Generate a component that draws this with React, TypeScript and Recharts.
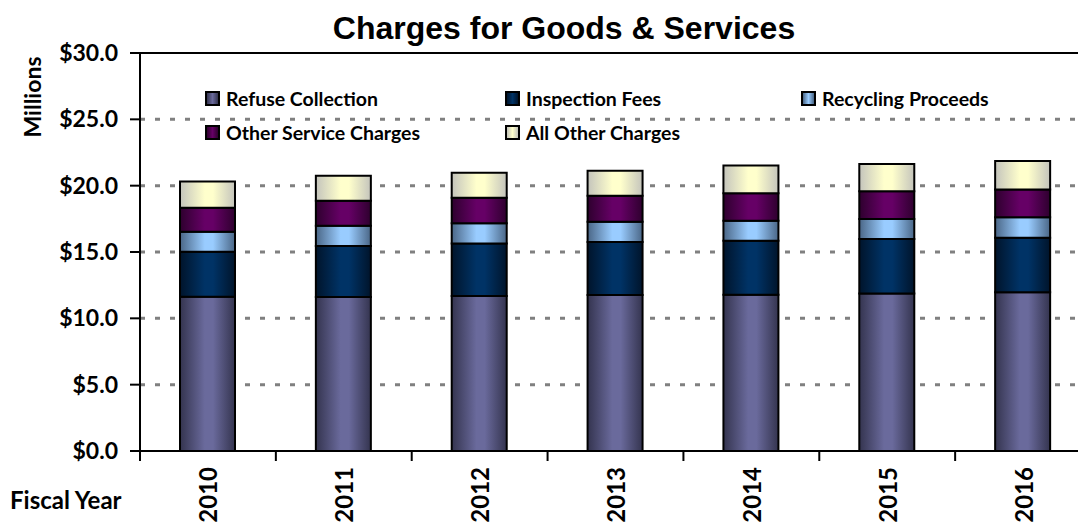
import React from "react"
import {
  BarChart,
  Bar,
  XAxis,
  YAxis,
  CartesianGrid,
  ReferenceLine,
} from "recharts"

// values in $ millions
const years = ["2010", "2011", "2012", "2013", "2014", "2015", "2016"]
const refuseCollection = [11.63, 11.6, 11.68, 11.76, 11.78, 11.88, 11.96]
const inspectionFees = [3.39, 3.85, 3.97, 3.99, 4.07, 4.1, 4.11]
const recyclingProceeds = [1.51, 1.53, 1.51, 1.53, 1.51, 1.5, 1.54]
const otherServiceCharges = [1.81, 1.88, 1.93, 1.96, 2.06, 2.09, 2.11]
const allOtherCharges = [1.98, 1.89, 1.88, 1.88, 2.1, 2.06, 2.13]
const yTicks = [0, 5, 10, 15, 20, 25, 30]

const FONT = "Lato, 'Open Sans', sans-serif"

const series = [
  { key: "refuse", name: "Refuse Collection", edge: "#34344f", mid: "#6a6a9c", values: refuseCollection },
  { key: "inspection", name: "Inspection Fees", edge: "#00142b", mid: "#003366", values: inspectionFees },
  { key: "recycling", name: "Recycling Proceeds", edge: "#4a6686", mid: "#99ccff", values: recyclingProceeds },
  { key: "otherService", name: "Other Service Charges", edge: "#2e002e", mid: "#660066", values: otherServiceCharges },
  { key: "allOther", name: "All Other Charges", edge: "#c4c4bc", mid: "#ffffcc", values: allOtherCharges },
]

const data = years.map((year, i) => {
  const row: Record<string, string | number> = { year }
  series.forEach((s) => {
    row[s.key] = s.values[i]
  })
  return row
})

// legend layout (two rows, three columns inside the plot)
const legendRows = [
  ["refuse", "inspection", "recycling"],
  ["otherService", "allOther"],
]
const legendCols = [205, 505, 801]

const CHART_W = 1100
const MARGIN = { top: 53, right: 9, bottom: 43, left: 0 }
const Y_AXIS_W = 140
const band = (CHART_W - MARGIN.left - MARGIN.right - Y_AXIS_W) / years.length

const YearTick = (props: any) => {
  const { x, y, payload } = props
  return (
    <g>
      <line x1={x - band / 2} x2={x - band / 2} y1={y - 8} y2={y + 2} stroke="#000" strokeWidth={2} />
      <text
        transform={`translate(${x},${y + 8}) rotate(-90)`}
        textAnchor="end"
        dominantBaseline="central"
        fontFamily={FONT}
        fontWeight={700}
        fontSize={24}
        fill="#000"
      >
        {payload.value}
      </text>
    </g>
  )
}

export default function App() {
  return (
    <div
      style={{
        position: "absolute",
        left: 0,
        top: 0,
        width: 1078,
        height: 524,
        overflow: "hidden",
        background: "#fff",
      }}
    >
      <BarChart width={CHART_W} height={524} data={data} margin={MARGIN} barSize={55}>
        <defs>
          {series.map((s) => (
            <linearGradient key={s.key} id={`grad-${s.key}`} x1="0" y1="0" x2="1" y2="0">
              <stop offset="0%" stopColor={s.edge} />
              <stop offset="45%" stopColor={s.mid} />
              <stop offset="60%" stopColor={s.mid} />
              <stop offset="100%" stopColor={s.edge} />
            </linearGradient>
          ))}
        </defs>
        <CartesianGrid
          vertical={false}
          horizontalValues={[5, 10, 15, 20, 25]}
          stroke="#808080"
          strokeWidth={3}
          strokeDasharray="5 10"
        />
        <ReferenceLine y={30} stroke="#000" strokeWidth={2} />
        <XAxis
          dataKey="year"
          height={30}
          tickLine={false}
          axisLine={{ stroke: "#000", strokeWidth: 2 }}
          tick={<YearTick />}
          interval={0}
        />
        <YAxis
          width={Y_AXIS_W}
          domain={[0, 30]}
          ticks={yTicks}
          interval={0}
          tickSize={10}
          tickMargin={12}
          tickLine={{ stroke: "#000", strokeWidth: 2 }}
          axisLine={{ stroke: "#000", strokeWidth: 2 }}
          tickFormatter={(v: number) => `$${v.toFixed(1)}`}
          tick={{ fill: "#000", fontFamily: FONT, fontWeight: 700, fontSize: 23 }}
        />
        {series.map((s) => (
          <Bar
            key={s.key}
            dataKey={s.key}
            name={s.name}
            stackId="a"
            fill={`url(#grad-${s.key})`}
            stroke="#000"
            strokeWidth={2}
            isAnimationActive={false}
          />
        ))}
      </BarChart>

      <div
        style={{
          position: "absolute",
          left: 0,
          width: 1128,
          top: 10,
          textAlign: "center",
          fontFamily: "'Liberation Sans', Arial, sans-serif",
          fontWeight: 700,
          fontSize: 32,
          lineHeight: "36px",
          color: "#000",
        }}
      >
        Charges for Goods &amp; Services
      </div>

      <div
        style={{
          position: "absolute",
          left: 32,
          top: 97,
          transform: "translate(-50%, -50%) rotate(-90deg)",
          fontFamily: FONT,
          fontWeight: 700,
          fontSize: 23,
          whiteSpace: "nowrap",
          color: "#000",
        }}
      >
        Millions
      </div>

      <div
        style={{
          position: "absolute",
          left: 10,
          top: 485,
          fontFamily: FONT,
          fontWeight: 700,
          fontSize: 24,
          whiteSpace: "nowrap",
          color: "#000",
        }}
      >
        Fiscal Year
      </div>

      {legendRows.map((row, r) =>
        row.map((key, c) => {
          const s = series.find((it) => it.key === key)!
          return (
            <div
              key={key}
              style={{
                position: "absolute",
                left: legendCols[c],
                top: 87 + r * 34,
                height: 22,
                display: "flex",
                alignItems: "center",
                fontFamily: FONT,
                fontWeight: 700,
                fontSize: 19.5,
                whiteSpace: "nowrap",
                color: "#000",
              }}
            >
              <span
                style={{
                  display: "inline-block",
                  width: 11,
                  height: 11,
                  border: "2px solid #000",
                  background: `linear-gradient(to right, ${s.edge}, ${s.mid} 50%, ${s.edge})`,
                  marginRight: 6,
                }}
              />
              {s.name}
            </div>
          )
        })
      )}
    </div>
  )
}
